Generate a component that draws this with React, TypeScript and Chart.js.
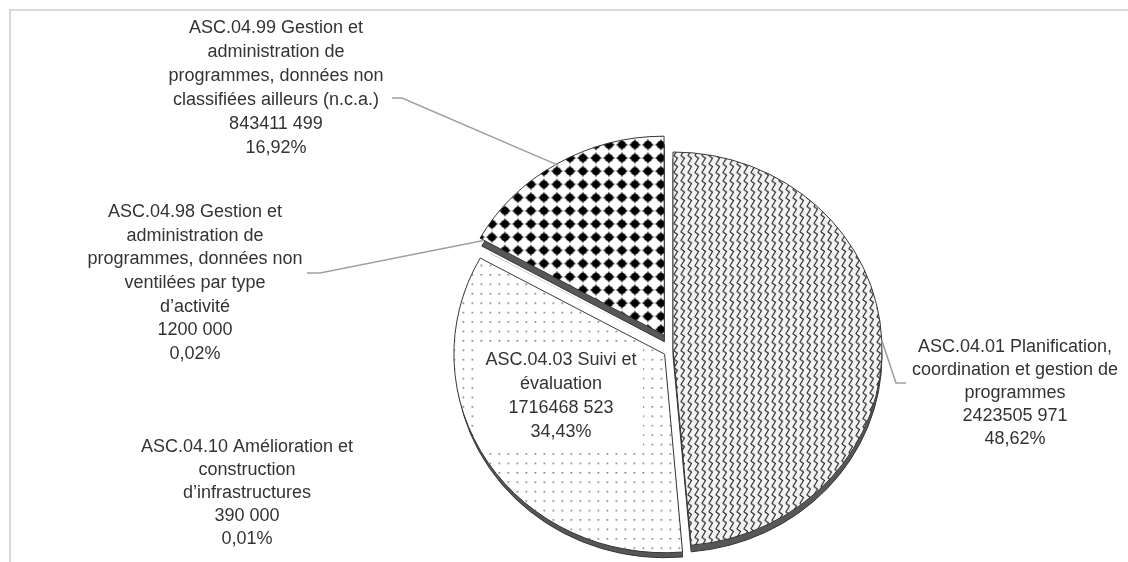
import React, { useEffect, useRef } from "react";
import { Chart, registerables } from "chart.js";

Chart.register(...registerables);

// ---- data ----
const categories = [
  "ASC.04.01 Planification, coordination et gestion de programmes",
  "ASC.04.10 Amélioration et construction d’infrastructures",
  "ASC.04.03 Suivi et évaluation",
  "ASC.04.98 Gestion et administration de programmes, données non ventilées par type d’activité",
  "ASC.04.99 Gestion et administration de programmes, données non classifiées ailleurs (n.c.a.)",
];
const values = [2423505971, 390000, 1716468523, 1200000, 843411499];
const valueLabels = ["2423505 971", "390 000", "1716468 523", "1200 000", "843411 499"];
const percentLabels = ["48,62%", "0,01%", "34,43%", "0,02%", "16,92%"];
const nameLines = [
  ["ASC.04.01 Planification,", "coordination et gestion de", "programmes"],
  ["ASC.04.10 Amélioration et", "construction", "d’infrastructures"],
  ["ASC.04.03 Suivi et", "évaluation"],
  ["ASC.04.98 Gestion et", "administration de", "programmes, données non", "ventilées par type", "d’activité"],
  ["ASC.04.99 Gestion et", "administration de", "programmes, données non", "classifiées ailleurs (n.c.a.)"],
];

// ---- styling / layout ----
const W = 1128;
const H = 562;
const CX = 673;
const CY = 349;
const RADIUS = 209;
const KY = 197 / 209; // slight vertical squash (3D tilt)
const DEPTH = 7;
const offsets = [0, 0, 40, 0, 68];
const FONT = '18px "Liberation Sans", Arial, sans-serif';

function makeTile(w: number, h: number, draw: (c: CanvasRenderingContext2D) => void) {
  const cv = document.createElement("canvas");
  cv.width = w;
  cv.height = h;
  const c = cv.getContext("2d")!;
  draw(c);
  return c.createPattern(cv, "repeat")!;
}

export default function App() {
  const ref = useRef<HTMLCanvasElement>(null);

  useEffect(() => {
    const canvas = ref.current!;
    const ctx0 = canvas.getContext("2d")!;

    const zigzag = makeTile(7, 9, (c) => {
      c.fillStyle = "#f4f4f4";
      c.fillRect(0, 0, 7, 9);
      c.strokeStyle = "#1e1e1e";
      c.lineWidth = 1.1;
      c.beginPath();
      c.moveTo(1.5, 9.5);
      c.lineTo(5.5, 2.5);
      c.lineTo(1.5, -0.5);
      c.stroke();
    });
    const dots = makeTile(9, 10, (c) => {
      c.fillStyle = "#ffffff";
      c.fillRect(0, 0, 9, 10);
      c.fillStyle = "#5e5e5e";
      c.fillRect(3, 4, 1.3, 1.7);
    });
    const diamonds = makeTile(13, 14, (c) => {
      c.fillStyle = "#ffffff";
      c.fillRect(0, 0, 13, 14);
      c.fillStyle = "#000000";
      const x = 6.5, y = 7;
      c.beginPath();
      c.arc(x, y, 4.1, 0, Math.PI * 2);
      c.fill();
      c.beginPath();
      c.moveTo(x, y - 6.3);
      c.lineTo(x + 2.0, y - 2.0);
      c.lineTo(x + 6.1, y);
      c.lineTo(x + 2.0, y + 2.0);
      c.lineTo(x, y + 6.3);
      c.lineTo(x - 2.0, y + 2.0);
      c.lineTo(x - 6.1, y);
      c.lineTo(x - 2.0, y - 2.0);
      c.closePath();
      c.fill();
    });

    const ellipsePlugin = {
      id: "ellipse3d",
      beforeDraw(chart: any) {
        const c = chart.ctx;
        c.save();
        c.fillStyle = "#ffffff";
        c.fillRect(0, 0, W, H);
        c.strokeStyle = "#d9d9d9";
        c.lineWidth = 2;
        c.strokeRect(10, 10, W + 50, H + 50);
        c.restore();
      },
      beforeDatasetsDraw(chart: any) {
        const c = chart.ctx;
        const meta = chart.getDatasetMeta(0);
        const cy = meta.data[0].y;
        c.save();
        c.translate(0, cy);
        c.scale(1, KY);
        c.translate(0, -cy);
        // side walls
        meta.data.forEach((el: any) => {
          if (el.endAngle - el.startAngle < 0.01) return;
          const off = (el.options.offset || 0) / 4;
          const mid = (el.startAngle + el.endAngle) / 2;
          c.save();
          c.translate(Math.cos(mid) * off, Math.sin(mid) * off + DEPTH);
          c.beginPath();
          c.moveTo(el.x, el.y);
          c.arc(el.x, el.y, el.outerRadius, el.startAngle, el.endAngle);
          c.closePath();
          c.fillStyle = "#575757";
          c.fill();
          c.strokeStyle = "#333333";
          c.lineWidth = 1;
          c.stroke();
          c.restore();
        });
      },
      afterDatasetsDraw(chart: any) {
        chart.ctx.restore();
      },
      afterDraw(chart: any) {
        const c = chart.ctx;
        const meta = chart.getDatasetMeta(0);
        const pointAt = (i: number, angle: number, inset: number, offFrom: number) => {
          const el: any = meta.data[i];
          const src: any = meta.data[offFrom];
          const off = (src.options.offset || 0) / 4;
          const smid = (src.startAngle + src.endAngle) / 2;
          const x = el.x + Math.cos(smid) * off + Math.cos(angle) * (el.outerRadius - inset);
          const yRaw = el.y + Math.sin(smid) * off + Math.sin(angle) * (el.outerRadius - inset);
          return [x, el.y + (yRaw - el.y) * KY];
        };
        const mid = (i: number) => (meta.data[i].startAngle + meta.data[i].endAngle) / 2;
        c.save();
        c.strokeStyle = "#a0a0a0";
        c.lineWidth = 1.6;
        const line = (pts: number[][]) => {
          c.beginPath();
          c.moveTo(pts[0][0], pts[0][1]);
          for (let k = 1; k < pts.length; k++) c.lineTo(pts[k][0], pts[k][1]);
          c.stroke();
        };
        line([[392, 98], [402, 98], pointAt(4, mid(4), 0, 4)]);
        line([[307, 273], [320, 273], pointAt(3, mid(3), 2, 4)]);
        line([pointAt(0, mid(0), 0, 0), [896, 383], [906, 383]]);

        // inner label box for slice 2
        c.fillStyle = "#ffffff";
        c.fillRect(480, 343, 163, 105);

        c.font = FONT;
        c.fillStyle = "#333333";
        c.textAlign = "center";
        c.textBaseline = "middle";
        const pos = [
          { x: 1015, y: 347, lh: 23 },
          { x: 247, y: 447, lh: 23 },
          { x: 561, y: 360, lh: 24 },
          { x: 195, y: 212, lh: 23.7 },
          { x: 276, y: 28, lh: 24 },
        ];
        categories.forEach((_, i) => {
          const lines = [...nameLines[i], valueLabels[i], percentLabels[i]];
          lines.forEach((t, k) => c.fillText(t, pos[i].x, pos[i].y + k * pos[i].lh));
        });
        c.restore();
      },
    };

    const chart = new Chart(ctx0, {
      type: "pie",
      data: {
        labels: categories,
        datasets: [
          {
            data: values,
            backgroundColor: [zigzag, "#555555", dots, "#555555", diamonds],
            borderColor: "#333333",
            borderWidth: [1, 0, 1, 0, 1],
            offset: offsets,
            radius: RADIUS,
            clip: false,
          } as any,
        ],
      },
      options: {
        responsive: false,
        animation: false,
        layout: { padding: { left: 2 * CX - W, right: 0, top: 2 * CY - H, bottom: 0 } },
        plugins: {
          legend: { display: false },
          tooltip: { enabled: false },
        },
      },
      plugins: [ellipsePlugin],
    });

    return () => chart.destroy();
  }, []);

  return (
    <div style={{ position: "absolute", left: 0, top: 0, width: W, height: H, background: "#fff" }}>
      <canvas ref={ref} width={W} height={H} style={{ display: "block", width: W, height: H }} />
    </div>
  );
}
